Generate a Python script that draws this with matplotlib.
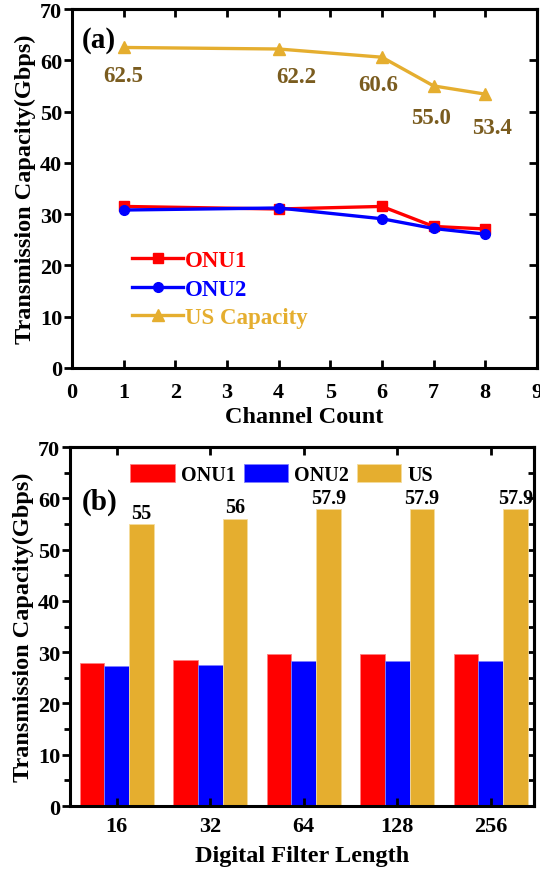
import matplotlib
matplotlib.use("Agg")
import matplotlib.pyplot as plt
import numpy as np

plt.rcParams["font.family"] = ["Liberation Serif", "DejaVu Serif"]
plt.rcParams["font.weight"] = "bold"

# (a) capacity vs channel count
channels = [1, 4, 6, 7, 8]
onu1_a = [31.5, 31.0, 31.5, 27.6, 27.1]
onu2_a = [30.8, 31.2, 29.1, 27.2, 26.1]
us_a = [62.5, 62.2, 60.6, 55.0, 53.4]
us_a_labels = ["62.5", "62.2", "60.6", "55.0", "53.4"]

# (b) capacity vs digital filter length
filter_lengths = ["16", "32", "64", "128", "256"]
onu1_b = [27.8, 28.5, 29.7, 29.7, 29.7]
onu2_b = [27.4, 27.5, 28.3, 28.3, 28.3]
us_b = [55.0, 56.0, 57.9, 57.9, 57.9]
us_b_labels = ["55", "56", "57.9", "57.9", "57.9"]

RED = "#ff0000"
BLUE = "#0000ff"
GOLD = "#e5ae2f"
LABEL_GOLD = "#7a5c1f"

TICK_FS = 16
LABEL_FS = 17.5


def style_axes(ax, xpad, minor_y=False):
    for sp in ax.spines.values():
        sp.set_linewidth(2.2)
    ax.tick_params(axis="y", which="major", direction="out", length=6, width=2,
                   labelsize=TICK_FS, pad=1)
    ax.tick_params(axis="x", which="major", direction="in", length=6, width=2,
                   labelsize=TICK_FS, pad=xpad)
    ax.tick_params(which="minor", length=4, width=2)
    for lab in ax.get_xticklabels() + ax.get_yticklabels():
        lab.set_fontweight("bold")

    right = ax.secondary_yaxis("right")
    right.set_yticks(ax.get_yticks())
    right.tick_params(direction="in", length=6, width=2, labelright=False)
    if minor_y:
        right.set_yticks(np.arange(5, 70, 10), minor=True)
        right.tick_params(which="minor", direction="in", length=4, width=2)
    right.spines["right"].set_linewidth(2.2)

    top = ax.secondary_xaxis("top")
    top.set_xticks(ax.get_xticks())
    top.tick_params(direction="in", length=6, width=2, labeltop=False)
    top.spines["top"].set_linewidth(2.2)


fig = plt.figure(figsize=(5.4, 8.7), dpi=100)

# ---- panel (a)
ax1 = fig.add_axes([0.1333, 0.5759, 0.861, 0.4126])
ax1.plot(channels, onu1_a, color=RED, lw=2.4, marker="s", ms=7, label="ONU1")
ax1.plot(channels, onu2_a, color=BLUE, lw=2.4, marker="o", ms=7, label="ONU2")
ax1.plot(channels, us_a, color=GOLD, lw=2.4, marker="^", ms=8.5,
         label="US Capacity")
offsets = [(0, -20), (13, -20), (-3, -20), (-2, -23), (5, -24)]
for x, y, txt, off in zip(channels, us_a, us_a_labels, offsets):
    ax1.annotate(txt, (x, y), xytext=off, textcoords="offset points",
                 ha="center", va="center", fontsize=16.5, fontweight="bold",
                 color=LABEL_GOLD)
ax1.set_xlim(0, 9)
ax1.set_ylim(0, 70)
ax1.set_xticks(range(0, 10))
ax1.set_yticks(range(0, 71, 10))
ax1.set_xlabel("Channel Count", fontsize=LABEL_FS, fontweight="bold",
               labelpad=3)
ax1.set_ylabel("Transmission Capacity(Gbps)", fontsize=LABEL_FS,
               fontweight="bold", labelpad=3)
ax1.text(0.02, 0.915, "(a)", transform=ax1.transAxes, fontsize=21,
         fontweight="bold", va="center")
leg1 = ax1.legend(loc="lower left", bbox_to_anchor=(0.11, 0.085), frameon=False,
                  fontsize=16.5, handlelength=2.2, handletextpad=0.1,
                  labelspacing=0.33, borderaxespad=0)
for text, line in zip(leg1.get_texts(), leg1.get_lines()):
    text.set_color(line.get_color())
    text.set_fontweight("bold")
style_axes(ax1, xpad=10)

# ---- panel (b)
ax2 = fig.add_axes([0.1296, 0.0724, 0.859, 0.4126])
pos = np.arange(len(filter_lengths))
w = 0.265
ax2.bar(pos - w, onu1_b, width=w, color=RED, edgecolor="#ff8080", lw=0.6,
        label="ONU1")
ax2.bar(pos, onu2_b, width=w, color=BLUE, edgecolor="#8080ff", lw=0.6,
        label="ONU2")
bars_us = ax2.bar(pos + w, us_b, width=w, color=GOLD, edgecolor="#f5dc9c",
                  lw=0.6, label="US")
for rect, txt in zip(bars_us, us_b_labels):
    ax2.annotate(txt, (rect.get_x() + rect.get_width() / 2, rect.get_height()),
                 xytext=(0, 1), textcoords="offset points", ha="center",
                 va="bottom", fontsize=14.5, fontweight="bold")
ax2.set_xlim(-0.5, 4.46)
ax2.set_ylim(0, 70)
ax2.set_xticks(pos)
ax2.set_xticklabels(filter_lengths)
ax2.set_yticks(range(0, 71, 10))
ax2.set_yticks(np.arange(5, 70, 10), minor=True)
ax2.set_xlabel("Digital Filter Length", fontsize=LABEL_FS, fontweight="bold",
               labelpad=7)
ax2.set_ylabel("Transmission Capacity(Gbps)", fontsize=LABEL_FS,
               fontweight="bold", labelpad=3)
ax2.text(0.025, 0.85, "(b)", transform=ax2.transAxes, fontsize=21,
         fontweight="bold", va="center")
leg2 = ax2.legend(loc="upper left", bbox_to_anchor=(0.113, 0.975), ncol=3,
                  frameon=False, fontsize=14.5, handlelength=2.2,
                  handleheight=1.0, handletextpad=0.3, columnspacing=0.4,
                  borderaxespad=0)
for text in leg2.get_texts():
    text.set_fontweight("bold")
ax2.tick_params(axis="y", which="minor", direction="out", length=4, width=2)
style_axes(ax2, xpad=7, minor_y=True)

fig.savefig("out.png", dpi=100)
